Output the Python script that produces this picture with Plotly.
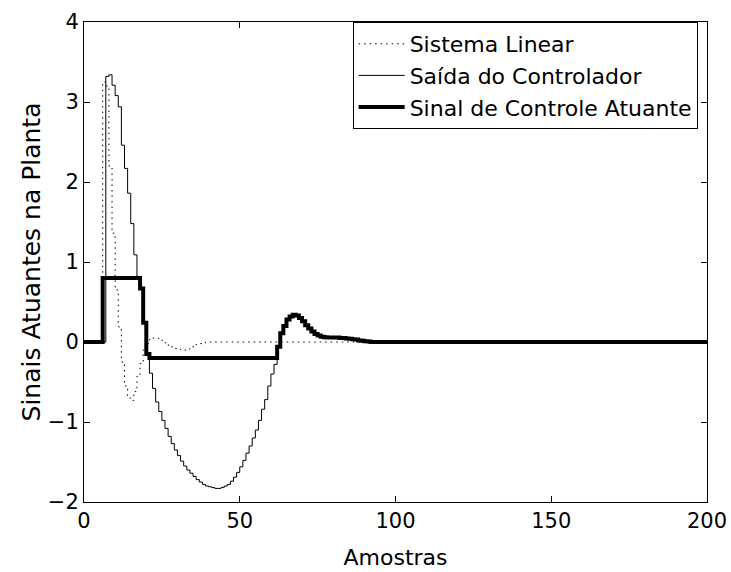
import plotly.graph_objects as go

# Sample index (Amostras)
amostras = list(range(0, 201))

# Sistema Linear (dotted)
sistema_linear_vals = [
    0, 0, 0, 0, 0, 0, 3.25, 3.2, 2.2, 1.36,
    0.65, 0.19, -0.25, -0.55, -0.7, -0.73, -0.62, -0.43, -0.27, -0.1,
    -0.02, 0.03, 0.05, 0.05, 0.04, 0.02, -0.01, -0.04, -0.06, -0.08,
    -0.09, -0.1, -0.1, -0.09, -0.07, -0.05, -0.03, -0.02, -0.01, 0.0,
]

# Saída do Controlador (thin)
saida_controlador_vals = [
    0, 0, 0, 0, 0, 0, 0, 3.32, 3.34, 3.21,
    3.08, 2.94, 2.46, 2.17, 1.86, 1.48, 1.09, 0.82, 0.67, 0.24,
    -0.15, -0.39, -0.58, -0.75, -0.87, -0.98, -1.08, -1.18, -1.27, -1.35,
    -1.42, -1.49, -1.55, -1.6, -1.64, -1.68, -1.72, -1.75, -1.78, -1.8,
    -1.81, -1.82, -1.83, -1.83, -1.82, -1.8, -1.78, -1.74, -1.69, -1.63,
    -1.56, -1.48, -1.39, -1.3, -1.2, -1.1, -0.98, -0.84, -0.72, -0.55,
    -0.4, -0.28, -0.06, 0.11, 0.2, 0.28, 0.32, 0.34, 0.33, 0.3,
    0.26, 0.21, 0.17, 0.13, 0.1, 0.08, 0.065, 0.06, 0.055, 0.055,
    0.055, 0.055, 0.05, 0.05, 0.045, 0.04, 0.035, 0.03, 0.02, 0.015,
    0.01, 0.005, 0.0,
]

# Sinal de Controle Atuante (thick)
sinal_atuante_vals = [
    0, 0, 0, 0, 0, 0, 0.8, 0.8, 0.8, 0.8,
    0.8, 0.8, 0.8, 0.8, 0.8, 0.8, 0.8, 0.8, 0.67, 0.24,
    -0.15, -0.2, -0.2, -0.2, -0.2, -0.2, -0.2, -0.2, -0.2, -0.2,
    -0.2, -0.2, -0.2, -0.2, -0.2, -0.2, -0.2, -0.2, -0.2, -0.2,
    -0.2, -0.2, -0.2, -0.2, -0.2, -0.2, -0.2, -0.2, -0.2, -0.2,
    -0.2, -0.2, -0.2, -0.2, -0.2, -0.2, -0.2, -0.2, -0.2, -0.2,
    -0.2, -0.2, -0.06, 0.11, 0.2, 0.28, 0.32, 0.34, 0.33, 0.3,
    0.26, 0.21, 0.17, 0.13, 0.1, 0.08, 0.065, 0.06, 0.055, 0.055,
    0.055, 0.055, 0.05, 0.05, 0.045, 0.04, 0.035, 0.03, 0.02, 0.015,
    0.01, 0.005, 0.0,
]

def pad(vals, n=201):
    return vals + [0.0] * (n - len(vals))

sistema_linear = pad(sistema_linear_vals)
saida_controlador = pad(saida_controlador_vals)
sinal_atuante = pad(sinal_atuante_vals)

x_ticks = [0, 50, 100, 150, 200]
y_ticks = [-2, -1, 0, 1, 2, 3, 4]

FONT = "DejaVu Sans, Liberation Sans, Arial, sans-serif"
FS_TICK = 21
FS_XTITLE = 22
FS_YTITLE = 25
FS_LEG = 22

fig = go.Figure()
fig.add_trace(go.Scatter(
    x=amostras, y=sistema_linear, mode="lines", line_shape="hv",
    name="Sistema Linear",
    line=dict(color="black", width=1, dash="1.5px,4px"),
))
fig.add_trace(go.Scatter(
    x=amostras, y=saida_controlador, mode="lines", line_shape="hv",
    name="Saída do Controlador",
    line=dict(color="black", width=1),
))
fig.add_trace(go.Scatter(
    x=amostras, y=sinal_atuante, mode="lines", line_shape="hv",
    name="Sinal de Controle Atuante",
    line=dict(color="black", width=4),
))

axis_common = dict(
    showgrid=False, zeroline=False, showline=True, linecolor="black",
    linewidth=1, mirror="ticks", ticks="inside", ticklen=6,
    tickcolor="black", automargin=False,
    tickfont=dict(family=FONT, size=FS_TICK, color="black"),
)

fig.update_layout(
    width=731, height=572,
    margin=dict(l=84, r=24, t=22, b=70),
    paper_bgcolor="white", plot_bgcolor="white",
    font=dict(family=FONT, size=FS_TICK, color="black"),
    xaxis=dict(range=[0, 200], tickvals=x_ticks,
               title=dict(text="Amostras", font=dict(family=FONT, size=FS_XTITLE), standoff=17),
               **axis_common),
    yaxis=dict(range=[-2, 4], tickvals=y_ticks,
               title=dict(text="Sinais Atuantes na Planta", font=dict(family=FONT, size=FS_YTITLE), standoff=0),
               **axis_common),
    legend=dict(
        x=0.985, y=1.0, xanchor="right", yanchor="top",
        bgcolor="white", bordercolor="black", borderwidth=1,
        font=dict(family=FONT, size=FS_LEG, color="black"),
        tracegroupgap=0, itemwidth=46,
    ),
    showlegend=True,
)

fig.write_html("out.html", config={"displayModeBar": False},
               post_script="document.body.style.margin='0';")
